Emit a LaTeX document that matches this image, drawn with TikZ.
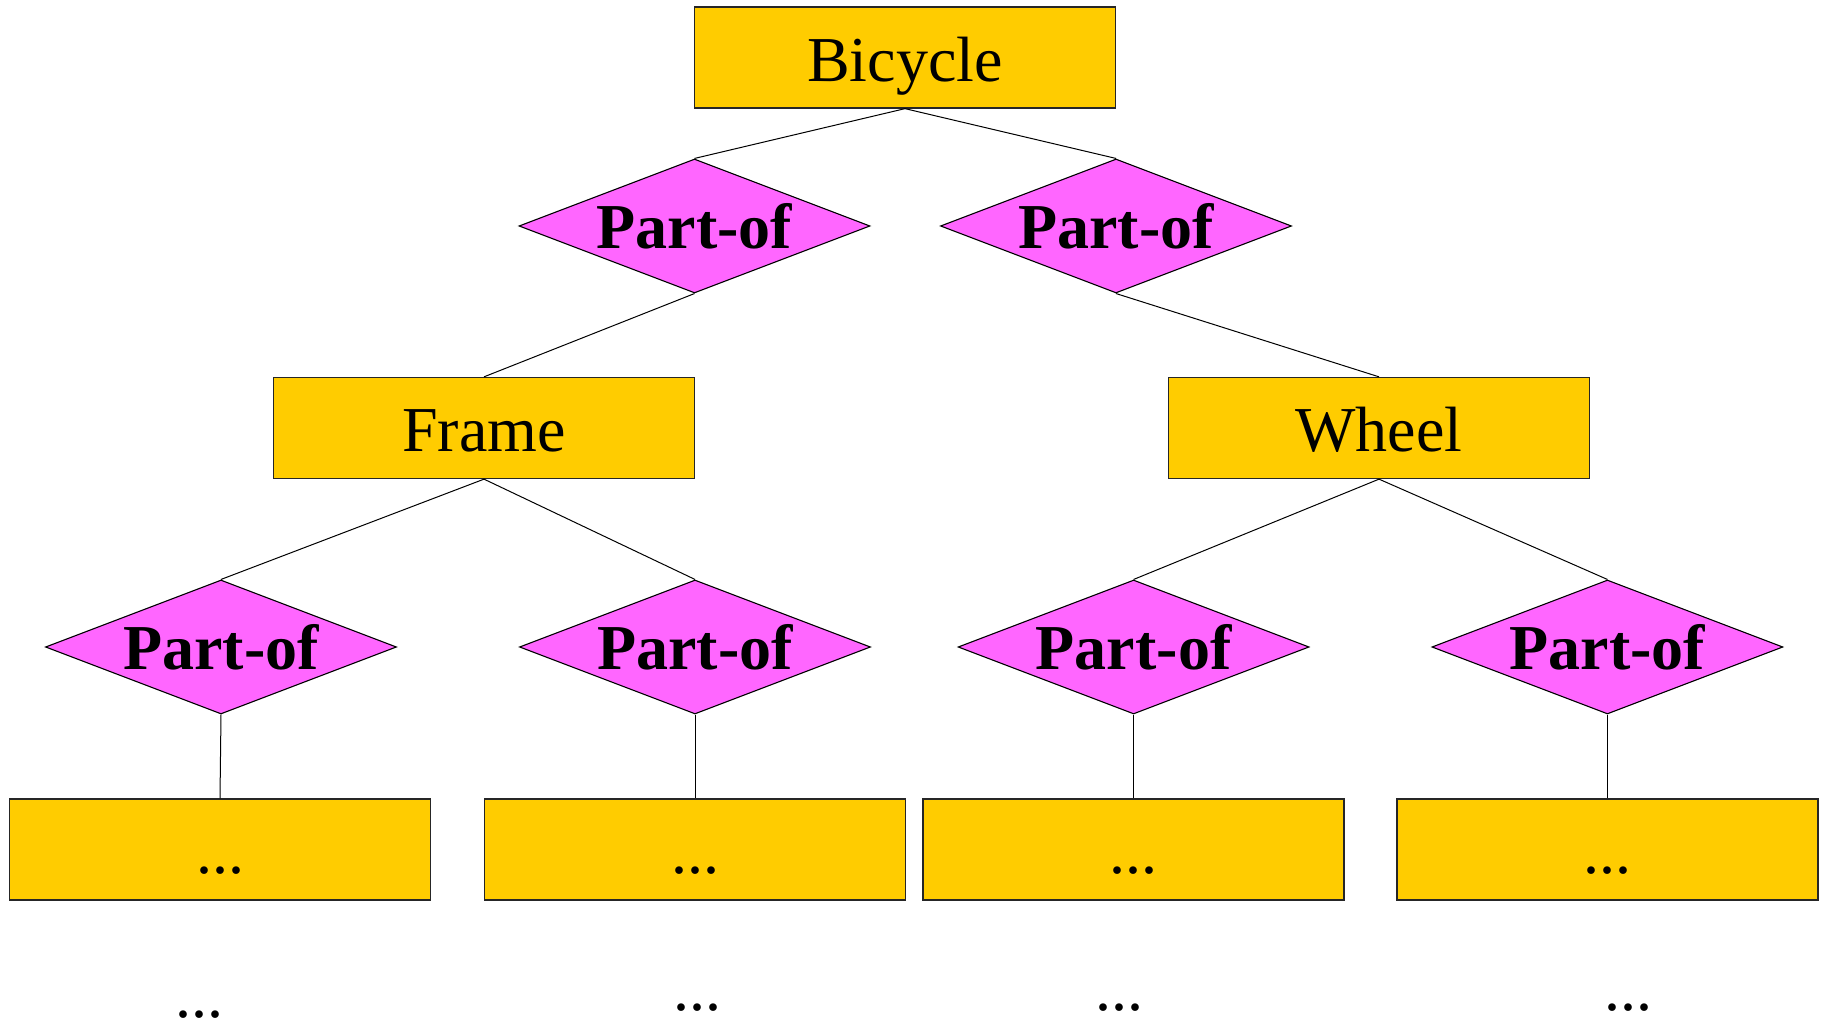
\documentclass[tikz,border=0pt]{standalone}
\usepackage{fontspec}
\setmainfont{Liberation Serif}
\usetikzlibrary{shapes.geometric}
\definecolor{entityfill}{HTML}{FFCC00}
\definecolor{relfill}{HTML}{FF66FF}
\begin{document}
\begin{tikzpicture}[x=0.5pt,y=-0.5pt,
  entity/.style={draw=black!85,line width=0.65pt,fill=entityfill,rectangle,
    minimum width=210.5pt,minimum height=50.5pt,inner sep=0pt,
    font=\fontsize{32}{38}\selectfont,text height=23.6pt,text depth=0pt},
  relation/.style={draw=black,line width=0.55pt,fill=relfill,diamond,shape aspect=2.62,
    minimum width=175.5pt,minimum height=67pt,inner sep=0pt,
    font=\fontsize{32}{38}\selectfont\bfseries,text height=23pt,text depth=0pt},
  more/.style={inner sep=0pt,anchor=base,font=\fontsize{32}{38}\selectfont},
  link/.style={line width=0.5pt,draw=black}]
\useasboundingbox (0,0) rectangle (1825,1020);

% entities
\node[entity] (bicycle) at (905,57.5) {Bicycle};
\node[entity] (frame) at (484,428) {Frame};
\node[entity] (wheel) at (1379,428) {Wheel};
\node[entity] (leafA) at (220,849.5) {...};
\node[entity] (leafB) at (695,849.5) {...};
\node[entity] (leafC) at (1133.6,849.5) {...};
\node[entity] (leafD) at (1607.4,849.5) {...};

% part-of relationships
\node[relation] (relF) at (694.5,226) {Part-of};
\node[relation] (relW) at (1116,226) {Part-of};
\node[relation] (relA) at (221,647) {Part-of};
\node[relation] (relB) at (695,647) {Part-of};
\node[relation] (relC) at (1133.6,647) {Part-of};
\node[relation] (relD) at (1607.4,647) {Part-of};

% continuation marks
\node[more] (moreA) at (199.3,1017.5) {...};
\node[more] (moreB) at (697.7,1010.2) {...};
\node[more] (moreC) at (1119.3,1010.2) {...};
\node[more] (moreD) at (1628.3,1010.2) {...};

% connectors
\draw[link] (bicycle.south) -- (relF.north);
\draw[link] (bicycle.south) -- (relW.north);
\draw[link] (relF.south) -- (frame.north);
\draw[link] (relW.south) -- (wheel.north);
\draw[link] (frame.south) -- (relA.north);
\draw[link] (frame.south) -- (relB.north);
\draw[link] (wheel.south) -- (relC.north);
\draw[link] (wheel.south) -- (relD.north);
\draw[link] (relA.south) -- (leafA.north);
\draw[link] (relB.south) -- (leafB.north);
\draw[link] (relC.south) -- (leafC.north);
\draw[link] (relD.south) -- (leafD.north);
\end{tikzpicture}
\end{document}
